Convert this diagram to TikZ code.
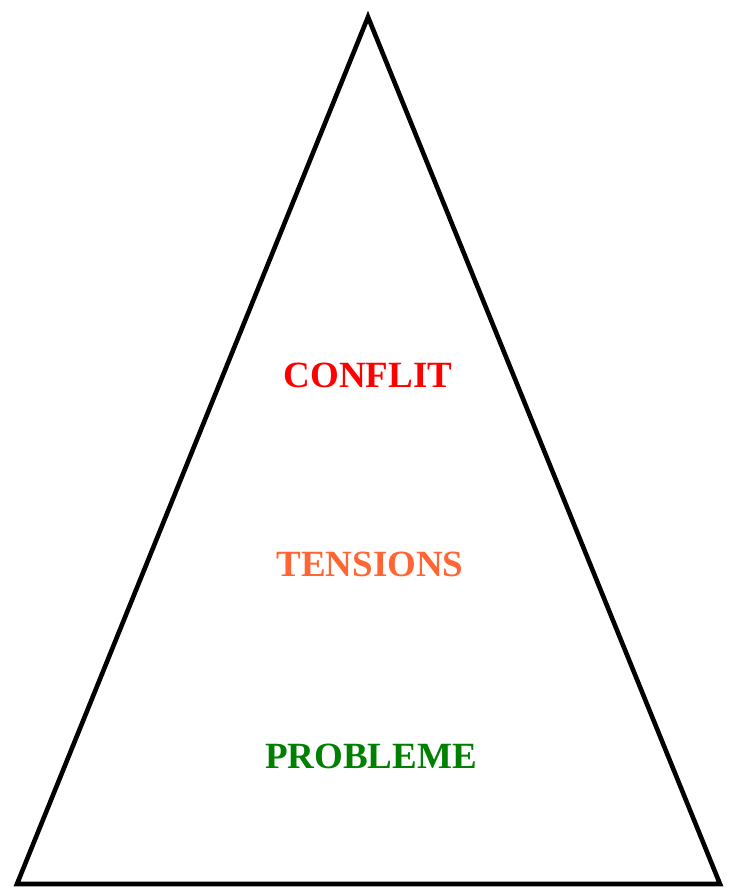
\documentclass[tikz,border=0pt]{standalone}
\usepackage{fontspec}
\setmainfont{Liberation Serif}
\definecolor{conflitred}{HTML}{FF0000}
\definecolor{tensionorange}{HTML}{FF6633}
\definecolor{problemgreen}{HTML}{008000}
\begin{document}
\begin{tikzpicture}[x=1bp,y=-1bp,
  level/.style={anchor=base,inner sep=0pt,font=\fontsize{37bp}{40bp}\selectfont\bfseries}]
\useasboundingbox (0,0) rectangle (734,887);
% escalation pyramid
\coordinate (apex) at (368,17);
\coordinate (bl) at (17,884);
\coordinate (br) at (720,884);
\draw[line width=4.6bp,line join=miter] (apex) -- (br) -- (bl) -- cycle;
% levels
\node[level,text=conflitred] (conflit) at (368,387) {CONFLIT};
\node[level,text=tensionorange] (tensions) at (370,576) {TENSIONS};
\node[level,text=problemgreen] (probleme) at (371,768) {PROBLEME};
\end{tikzpicture}
\end{document}
